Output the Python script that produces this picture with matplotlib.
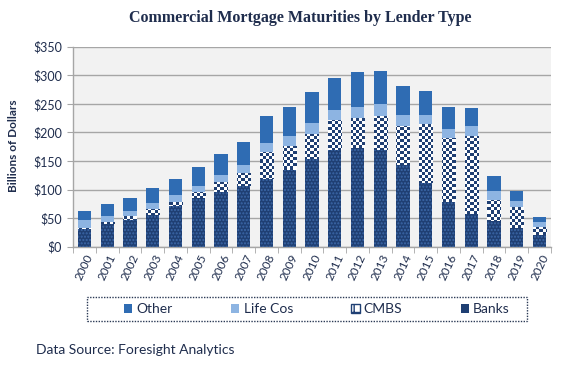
import numpy as np
import matplotlib
matplotlib.use('Agg')
import matplotlib.pyplot as plt
from matplotlib.patches import Patch, Rectangle
from matplotlib.colors import ListedColormap

years = [str(y) for y in range(2000, 2021)]
banks = [31, 39, 46, 55, 71, 85, 96, 107, 118, 135, 154, 169, 173, 169, 143, 112, 78, 57, 45, 32, 21]
cmbs = [2, 4, 8, 11, 8, 10, 18, 22, 48, 41, 43, 52, 53, 60, 68, 102, 112, 137, 37, 38, 14]
life_cos = [14, 11, 9, 11, 11, 12, 12, 14, 15, 18, 19, 18, 19, 21, 19, 16, 16, 17, 16, 10, 8]
other = [16, 20, 23, 25, 29, 32, 36, 41, 47, 51, 54, 57, 60, 58, 52, 42, 38, 31, 26, 18, 9]

navy = '#1F3F73'
c_other = '#2F6CB3'
c_life = '#8DB4E2'
txt = '#1F2D4D'
grid = '#A6A6A6'

plt.rcParams['font.family'] = ['Lato', 'DejaVu Sans']

fig = plt.figure(figsize=(5.73, 3.65), dpi=100)
ax = fig.add_axes([73 / 573, 118.3 / 365, 478 / 573, 200 / 365])
ax.set_facecolor('#F2F2F2')

x = np.arange(len(years))
w = 0.58
b = np.array(banks)
c = np.array(cmbs)
l = np.array(life_cos)
o = np.array(other)

ax.bar(x, b, w, color=navy, lw=0, zorder=2)
# speckle texture on the banks segment
ax.bar(x, b, w, color='none', edgecolor='#3C68A8', hatch='.....', lw=0, zorder=3)
cm_bars = ax.bar(x, c, w, bottom=b, color='white', lw=0, zorder=2)
ax.bar(x, l, w, bottom=b + c, color=c_life, lw=0, zorder=2)
ax.bar(x, o, w, bottom=b + c + l, color=c_other, lw=0, zorder=2)

# checkerboard texture for CMBS, clipped to each bar (about 3 px squares)
nx, ny = 159, 67
ii, jj = np.indices((ny, nx))
checker = (ii + jj) % 2
for p in cm_bars.patches:
    im = ax.imshow(checker, cmap=ListedColormap([navy, 'white']), extent=(-0.5, len(years) - 0.5, 0, 350),
                   aspect='auto', interpolation='nearest', zorder=2.5)
    im.set_clip_path(p)
ax.set_xlim(-0.5, len(years) - 0.5)
ax.set_ylim(0, 350)

ax.set_yticks(range(0, 351, 50))
ax.set_yticklabels(['$' + str(v) for v in range(0, 351, 50)], fontsize=9, color=txt)
ax.yaxis.grid(True, color=grid, lw=1.0, zorder=1)
ax.set_axisbelow(True)
ax.tick_params(axis='y', length=4, color=grid, pad=4)

ax.set_xticks(x)
ax.set_xticklabels(years, rotation=65, fontsize=8.5, color=txt, ha='center', va='top')
ax.set_xticks(np.arange(-0.5, len(years), 1), minor=True)
ax.tick_params(axis='x', which='major', length=0, pad=4)
ax.tick_params(axis='x', which='minor', length=4, color=grid)

for s in ['top', 'right']:
    ax.spines[s].set_visible(False)
for s in ['left', 'bottom']:
    ax.spines[s].set_color(grid)
    ax.spines[s].set_linewidth(1.0)

fig.text(300 / 573, 1 - 18.5 / 365, 'Commercial Mortgage Maturities by Lender Type', ha='center', va='center',
         fontsize=11.5, fontweight='bold', family='Liberation Serif', color=txt)
fig.text(14 / 573, 1 - 146 / 365, 'Billions of Dollars', rotation=90, ha='center', va='center',
         fontsize=8.5, fontweight='bold', color=txt)

# legend
handles = [Patch(facecolor=c_other), Patch(facecolor=c_life),
           Patch(facecolor='white', edgecolor=navy, hatch='++', lw=1), Patch(facecolor=navy)]
fig.legend(handles, ['Other', 'Life Cos', 'CMBS', 'Banks'], ncol=4, frameon=False,
           loc='center', bbox_to_anchor=(317 / 573, 1 - 309 / 365), fontsize=10, labelcolor=txt,
           handlelength=0.6, handleheight=0.6, handletextpad=0.3, columnspacing=4.2)
fig.patches.append(Rectangle((87 / 573, 1 - 321 / 365), 440 / 573, 24 / 365, transform=fig.transFigure,
                             fill=False, edgecolor='#2B3A55', lw=1, ls=(0, (1, 1))))

fig.text(36 / 573, 1 - 350 / 365, 'Data Source: Foresight Analytics', ha='left', va='center',
         fontsize=10, color=txt)

fig.savefig('out.png', dpi=100)
